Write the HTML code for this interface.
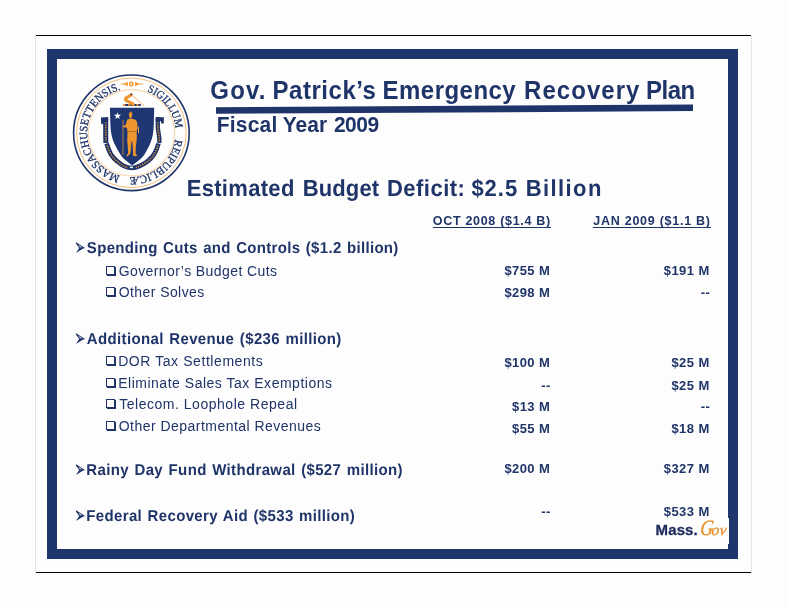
<!DOCTYPE html>
<html><head><meta charset="utf-8"><title>Gov. Patrick’s Emergency Recovery Plan</title>
<style>
html,body{margin:0;padding:0;}
body{width:787px;height:608px;background:#fdfdfd;position:relative;overflow:hidden;font-family:"Liberation Sans",sans-serif;color:#1f3468;}
.abs,.t{position:absolute;white-space:nowrap;line-height:1;}
.b{font-weight:bold;}
.g{text-rendering:geometricPrecision;}
.u{border-bottom:1.5px solid #1f3468;height:12.7px;}
.v{font-size:13px;letter-spacing:0.4px;}
#topline{left:36px;top:35px;width:715px;height:1.1px;background:#000;}
#botline{left:36px;top:572px;width:715px;height:1.1px;background:#000;}
#lline{left:35px;top:36px;width:1px;height:537px;background:repeating-linear-gradient(180deg,#cdcdcd 0 1px,#fbfbfb 1px 2px);}
#rline{left:751px;top:36px;width:1px;height:537px;background:repeating-linear-gradient(180deg,#cdcdcd 0 1px,#fbfbfb 1px 2px);}
#frame{left:47px;top:49px;width:671px;height:490px;border:10px solid #1e366c;background:#fdfdfd;}
</style></head><body>
<div class="abs" id="topline"></div><div class="abs" id="botline"></div>
<div class="abs" id="lline"></div><div class="abs" id="rline"></div>
<div class="abs" id="frame"></div>
<svg class="abs" style="left:0;top:0" width="787" height="608" viewBox="0 0 787 608">
<defs>
<path id="sealarc" d="M131.4,132.8 m0,-44.3 a44.3,44.3 0 1,1 -0.01,0"/>
</defs>
<!-- title rule -->
<polygon points="216,107.2 693,104.4 693,111.1 216,113.8" fill="#1f3468"/>
<!-- seal rings -->
<circle cx="131.4" cy="132.8" r="57.8" fill="#fefefe" stroke="#1f3468" stroke-width="1.6"/>
<circle cx="131.4" cy="132.8" r="54.8" fill="none" stroke="#f0a040" stroke-width="0.7"/>
<circle cx="131.4" cy="132.8" r="43.1" fill="none" stroke="#f5cf9c" stroke-width="1.3" stroke-dasharray="1.4 0.5"/>
<!-- legend -->
<text font-family="'Liberation Serif',serif" font-size="11.2" fill="#1f3468" stroke="#1f3468" stroke-width="0.3"><textPath href="#sealarc" startOffset="15.9" textLength="49.1" lengthAdjust="spacingAndGlyphs">SIGILLUM</textPath><textPath href="#sealarc" startOffset="75.8" textLength="64.9" lengthAdjust="spacingAndGlyphs">REIPUBLICÆ</textPath><textPath href="#sealarc" startOffset="150.0" textLength="116.8" lengthAdjust="spacingAndGlyphs">MASSACHUSETTENSIS.</textPath></text>
<!-- top ornament -->
<g fill="#f0962e" stroke="none">
<circle cx="131.4" cy="84" r="2.5"/>
<circle cx="131.4" cy="84" r="1.2" fill="#fbe3c0"/>
<polygon points="127.8,81.8 127.8,86.2 123.2,84"/>
<polygon points="135,81.8 135,86.2 139.6,84"/>
<rect x="120.6" y="83.6" width="4" height="0.9"/>
<rect x="138.4" y="83.6" width="4.6" height="0.9"/>
</g>
<!-- ribbon -->
<g fill="none" stroke="#1f3468" stroke-linecap="butt" stroke-linejoin="round">
<path stroke-width="5" d="M105.7,119 L105.7,135 L105.9,143"/>
<path stroke-width="4.6" d="M106.6,143.5 C107.6,147 109,151 110.9,154.3 C112.8,157.4 115,159.6 117.5,161.6 C119.4,163.2 121.4,164.8 123.4,165.8 C126,167.2 128.6,168 131.5,168"/>
<path stroke-width="4.3" d="M157.8,119 L157.8,128 C158.4,132 159.2,136 159.4,139.6 L159.2,143"/>
<path stroke-width="4.6" d="M158.4,143.5 C157.6,147 156,151 154.1,154.3 C152.2,157.4 149.8,159.6 147.2,161.6 C145,163.2 142,164.8 139.9,165.8 C137,167.2 134.4,168 131.5,168"/>
</g>
<g fill="none" stroke="#d9913c" stroke-width="1.5" stroke-dasharray="1.3 1.1">
<path d="M105.8,122.5 L105.8,135 L106,142 M107.2,145.5 C108,148.6 109.4,151.6 110.9,154.3 C112.8,157.4 115,159.6 117.5,161.6 C119.4,163.2 121.4,164.8 123.4,165.8 C125,166.7 126.4,167.2 128,167.6"/>
<path d="M157.8,122.5 L157.8,128 C158.4,132 159.2,136 159.4,139.6 L159.3,142 M157.8,145.5 C157,148.6 155.6,151.6 154.1,154.3 C152.2,157.4 149.8,159.6 147.2,161.6 C145,163.2 142,164.8 139.9,165.8 C138.4,166.7 136.8,167.2 135.2,167.6"/>
</g>
<path d="M100.9,117.4 L108.2,117 L108.2,121 L104,121.4 L103.6,124.2 L101.2,124 Z" fill="#1f3468"/>
<path d="M163.9,117.2 L155.6,117 L155.6,121 L161,121.2 L161.2,123.4 L163.8,123.2 Z" fill="#1f3468"/>
<rect x="129" y="165.9" width="5" height="4.2" rx="0.6" fill="#1f3468"/>
<rect x="129.9" y="166.6" width="3.2" height="1.6" fill="#eef1f7"/>
<!-- shield -->
<path d="M109.9,107.8 L154.2,107.8 L153.8,125 C153.6,131 152.8,137.6 150.4,143 C149,146.4 146.8,150.8 144.6,154.3 C142.4,157.4 139.8,159.8 137.4,161.6 L132.1,165.6 L127.1,161.6 C124.8,159.8 122.4,157.4 120.2,154.3 C118,150.8 116,147 114.3,143.6 C111.8,138 110.6,131 110.4,125 Z" fill="#1e3773"/>
<!-- star -->
<polygon fill="#ffffff" points="117.50,112.20 118.37,114.80 121.11,114.83 118.91,116.46 119.73,119.07 117.50,117.49 115.27,119.07 116.09,116.46 113.89,114.83 116.63,114.80"/>
<!-- figure -->
<g fill="#f0962e">
<ellipse cx="130.5" cy="114.9" rx="1.7" ry="2.3"/>
<path d="M129,112.6 L130.6,111.4 L132.2,112 L132.6,114.2 L130.4,113 Z" fill="#b9722e"/>
<rect x="129.8" y="116.6" width="1.6" height="2"/>
<path d="M127.2,119.8 C128.6,118.6 132.6,118.4 134.8,119.4 C136.4,120.2 137,121.4 137.2,123 L137.6,128.6 L136.6,131 L136.8,136 L136.6,140.8 L135.8,147 L135.6,153.4 L137,155.4 L136.6,156.2 L133.2,156 L132.8,147.4 L132.2,141.6 L131.4,141.6 L131,147.4 L130.4,153.6 L127.4,156.4 L126.4,155.8 L128.2,153 L127.8,146.8 L127.2,140.8 L127.4,136 L127.6,131 L126.8,128 L126,127.2 L123.6,127.4 L122.6,126.4 L123.4,125.4 L125.4,125.6 L126.2,123 Z"/>
<rect x="126.9" y="131" width="10" height="1" fill="#b9722e"/>
<rect x="122.6" y="119.8" width="0.8" height="35.4" fill="#d6923e"/>
<rect x="138.1" y="126.6" width="0.9" height="6.6" fill="#f0b050"/>
</g>
<!-- crest -->
<g>
<rect x="123.2" y="104.1" width="17.8" height="1.9" rx="0.9" fill="#1e3773"/>
<g fill="#f0962e">
<rect x="123.2" y="104.1" width="2.4" height="1.9" rx="0.8"/><rect x="128.2" y="104.1" width="2" height="1.9"/><rect x="132.4" y="104.1" width="2" height="1.9"/><rect x="136.4" y="104.1" width="2" height="1.9"/>
<path d="M131,95 L125.6,98.4 C125,99.6 125.6,100.4 128,101.4 L133,104" fill="none" stroke="#f0962e" stroke-width="3.1" stroke-linecap="round" stroke-linejoin="round"/>
<path d="M132,95.2 L144.2,105.8" fill="none" stroke="#f2ad5c" stroke-width="0.9"/>
<circle cx="131.3" cy="94.4" r="1.1" fill="#7a4a3a"/>
</g>
</g>
</svg>

<svg class="abs" style="left:0;top:0" width="787" height="608" viewBox="0 0 787 608">
<g fill="#1f3468"><polygon points="79.4,247.65 84.4,247.65 75.9,252.90"/><path d="M76.2,242.90 L83.6,247.65 L79.6,247.65 Z" fill="#fdfdfd" stroke="#1f3468" stroke-width="1.05" stroke-linejoin="miter"/></g>
<rect x="107" y="267" width="9" height="9" fill="#1f3468"/><rect x="106" y="266" width="9" height="9" fill="#1f3468"/><rect x="107" y="267" width="7" height="7" fill="#fdfdfd"/>
<rect x="107" y="288" width="9" height="9" fill="#1f3468"/><rect x="106" y="287" width="9" height="9" fill="#1f3468"/><rect x="107" y="288" width="7" height="7" fill="#fdfdfd"/>
<g fill="#1f3468"><polygon points="79.4,338.65 84.4,338.65 75.9,343.90"/><path d="M76.2,333.90 L83.6,338.65 L79.6,338.65 Z" fill="#fdfdfd" stroke="#1f3468" stroke-width="1.05" stroke-linejoin="miter"/></g>
<rect x="107" y="357" width="9" height="9" fill="#1f3468"/><rect x="106" y="356" width="9" height="9" fill="#1f3468"/><rect x="107" y="357" width="7" height="7" fill="#fdfdfd"/>
<rect x="107" y="379" width="9" height="9" fill="#1f3468"/><rect x="106" y="378" width="9" height="9" fill="#1f3468"/><rect x="107" y="379" width="7" height="7" fill="#fdfdfd"/>
<rect x="107" y="400" width="9" height="9" fill="#1f3468"/><rect x="106" y="399" width="9" height="9" fill="#1f3468"/><rect x="107" y="400" width="7" height="7" fill="#fdfdfd"/>
<rect x="107" y="422" width="9" height="9" fill="#1f3468"/><rect x="106" y="421" width="9" height="9" fill="#1f3468"/><rect x="107" y="422" width="7" height="7" fill="#fdfdfd"/>
<g fill="#1f3468"><polygon points="79.4,469.65 84.4,469.65 75.9,474.90"/><path d="M76.2,464.90 L83.6,469.65 L79.6,469.65 Z" fill="#fdfdfd" stroke="#1f3468" stroke-width="1.05" stroke-linejoin="miter"/></g>
<g fill="#1f3468"><polygon points="79.4,515.65 84.4,515.65 75.9,520.90"/><path d="M76.2,510.90 L83.6,515.65 L79.6,515.65 Z" fill="#fdfdfd" stroke="#1f3468" stroke-width="1.05" stroke-linejoin="miter"/></g>
</svg>
<div class="abs" style="left:654px;top:518px;width:75px;height:26px;background:#fefefe;"></div>
<div class="abs" style="left:654px;top:544px;width:74px;height:5px;background:#fefefe;"></div>
<div class="abs b" id="mass" style="left:655.6px;top:521.7px;font-size:15px;letter-spacing:0.1px;color:#1c2b5c;-webkit-text-stroke:0.3px #1c2b5c;">Mass.</div>
<div class="abs" id="gov" style="left:699.4px;top:514.6px;line-height:25px;font-family:'Liberation Serif',serif;font-style:italic;color:#e8912c;-webkit-text-stroke:0.35px #e8912c;transform:skewX(-8deg);transform-origin:0 85%;"><span style="font-size:22px;display:inline-block;transform:scaleX(0.82);transform-origin:0 0;margin-right:-4.2px;">G</span><span style="font-size:15.5px;letter-spacing:0.2px;">ov</span></div>
<div class="t f b" style="left:210.31px;top:77px;line-height:27px;font-size:24px;letter-spacing:1.196px;transform:scaleY(1.05);transform-origin:0 22px">Gov.</div>
<div class="t f b" style="left:272.56px;top:77px;line-height:27px;font-size:24px;letter-spacing:0.527px;transform:scaleY(1.05);transform-origin:0 22px">Patrick’s</div>
<div class="t f b" style="left:382.56px;top:77px;line-height:27px;font-size:24px;letter-spacing:0.468px;transform:scaleY(1.05);transform-origin:0 22px">Emergency</div>
<div class="t f b" style="left:524.06px;top:77px;line-height:27px;font-size:24px;letter-spacing:1.046px;transform:scaleY(1.05);transform-origin:0 22px">Recovery</div>
<div class="t f b" style="left:646.06px;top:77px;line-height:27px;font-size:24px;letter-spacing:-0.513px;transform:scaleY(1.05);transform-origin:0 22px">Plan</div>
<div class="t f b" style="left:216.74px;top:113px;line-height:23px;font-size:21px;letter-spacing:0.211px;transform:scaleY(1.03);transform-origin:0 19px">Fiscal</div>
<div class="t f b" style="left:282.74px;top:113px;line-height:23px;font-size:21px;letter-spacing:-0.014px;transform:scaleY(1.03);transform-origin:0 19px">Year</div>
<div class="t f b" style="left:333.99px;top:113px;line-height:23px;font-size:21px;letter-spacing:-0.540px;transform:scaleY(1.03);transform-origin:0 19px">2009</div>
<div class="t f b g" style="left:186.68px;top:176px;line-height:25px;font-size:22px;letter-spacing:0.318px;transform:scaleY(1.055);transform-origin:0 20px">Estimated</div>
<div class="t f b g" style="left:302.68px;top:176px;line-height:25px;font-size:22px;letter-spacing:0.137px;transform:scaleY(1.055);transform-origin:0 20px">Budget</div>
<div class="t f b g" style="left:386.93px;top:176px;line-height:25px;font-size:22px;letter-spacing:0.484px;transform:scaleY(1.055);transform-origin:0 20px">Deficit:</div>
<div class="t f b g" style="left:471.43px;top:176px;line-height:25px;font-size:22px;letter-spacing:0.957px;transform:scaleY(1.055);transform-origin:0 20px">$2.5</div>
<div class="t f b g" style="left:525.68px;top:176px;line-height:25px;font-size:22px;letter-spacing:1.414px;transform:scaleY(1.055);transform-origin:0 20px">Billion</div>
<div class="t f b u" style="left:432.75px;top:214px;line-height:14px;font-size:12.5px;letter-spacing:0.700px">OCT 2008 ($1.4 B)</div>
<div class="t f b u" style="left:593.25px;top:214px;line-height:14px;font-size:12.5px;letter-spacing:0.739px">JAN 2009 ($1.1 B)</div>
<div class="t f b g" style="left:86.85px;top:240px;line-height:17px;font-size:15px;letter-spacing:0.308px;word-spacing:1.0px;transform:scaleY(1.055);transform-origin:0 14px">Spending Cuts and Controls ($1.2 billion)</div>
<div class="t f" style="left:118.66px;top:263px;line-height:16px;font-size:14px;letter-spacing:0.415px">Governor’s Budget Cuts</div>
<div class="t f" style="left:118.66px;top:284px;line-height:16px;font-size:14px;letter-spacing:0.428px">Other Solves</div>
<div class="t f b g" style="left:86.85px;top:331px;line-height:17px;font-size:15px;letter-spacing:0.358px;word-spacing:1.0px;transform:scaleY(1.055);transform-origin:0 14px">Additional Revenue ($236 million)</div>
<div class="t f" style="left:118.16px;top:353px;line-height:16px;font-size:14px;letter-spacing:0.572px">DOR Tax Settlements</div>
<div class="t f" style="left:118.16px;top:375px;line-height:16px;font-size:14px;letter-spacing:0.515px">Eliminate Sales Tax Exemptions</div>
<div class="t f" style="left:119.16px;top:396px;line-height:16px;font-size:14px;letter-spacing:0.527px">Telecom. Loophole Repeal</div>
<div class="t f" style="left:118.66px;top:418px;line-height:16px;font-size:14px;letter-spacing:0.472px">Other Departmental Revenues</div>
<div class="t f b g" style="left:86.35px;top:462px;line-height:17px;font-size:15px;letter-spacing:0.355px;word-spacing:1.0px;transform:scaleY(1.055);transform-origin:0 14px">Rainy Day Fund Withdrawal ($527 million)</div>
<div class="t f b g" style="left:86.35px;top:508px;line-height:17px;font-size:15px;letter-spacing:0.342px;word-spacing:1.0px;transform:scaleY(1.055);transform-origin:0 14px">Federal Recovery Aid ($533 million)</div>
<div class="t b v" style="right:236.79px;top:263px;line-height:15px">$755 M</div>
<div class="t b v" style="right:77.39px;top:263px;line-height:15px">$191 M</div>
<div class="t b v" style="right:236.79px;top:285px;line-height:15px">$298 M</div>
<div class="t b v" style="right:76.88px;top:285px;line-height:15px">--</div>
<div class="t b v" style="right:236.79px;top:355px;line-height:15px">$100 M</div>
<div class="t b v" style="right:77.39px;top:355px;line-height:15px">$25 M</div>
<div class="t b v" style="right:236.28px;top:378px;line-height:15px">--</div>
<div class="t b v" style="right:77.39px;top:378px;line-height:15px">$25 M</div>
<div class="t b v" style="right:236.79px;top:399px;line-height:15px">$13 M</div>
<div class="t b v" style="right:76.88px;top:399px;line-height:15px">--</div>
<div class="t b v" style="right:236.79px;top:421px;line-height:15px">$55 M</div>
<div class="t b v" style="right:77.39px;top:421px;line-height:15px">$18 M</div>
<div class="t b v" style="right:236.79px;top:461px;line-height:15px">$200 M</div>
<div class="t b v" style="right:77.39px;top:461px;line-height:15px">$327 M</div>
<div class="t b v" style="right:236.28px;top:504px;line-height:15px">--</div>
<div class="t b v" style="right:77.39px;top:504px;line-height:15px">$533 M</div>
</body></html>
